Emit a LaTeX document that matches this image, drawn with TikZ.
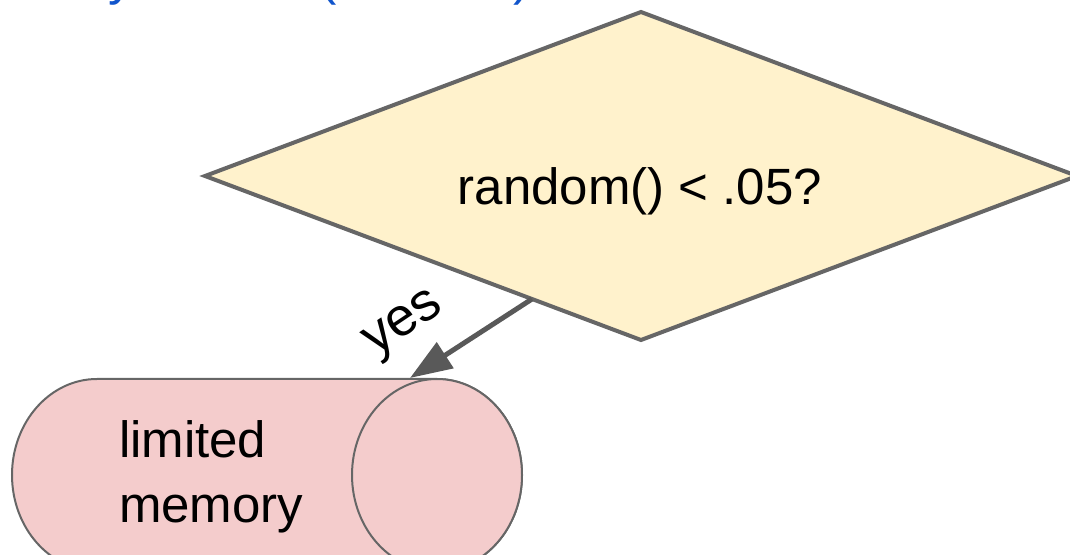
\documentclass[tikz,border=0pt]{standalone}
\usepackage{fontspec}
\setmainfont{Liberation Sans}
\usetikzlibrary{shapes.geometric,arrows.meta,calc}

\definecolor{decfill}{HTML}{FFF2CC}
\definecolor{memfill}{HTML}{F4CCCC}
\definecolor{edgegray}{HTML}{666666}
\definecolor{arrowgray}{HTML}{595959}
\definecolor{titleblue}{HTML}{1155CC}

\tikzset{
  decision/.style={diamond, draw=edgegray, fill=decfill, line width=4pt,
    minimum width=872pt, minimum height=328pt, inner sep=0pt, outer sep=0pt},
  memshape/.style={draw=edgegray, fill=memfill, line width=2pt},
  bigtext/.style={inner sep=0pt, outer sep=0pt, font=\fontsize{51}{61}\selectfont},
  titletext/.style={inner sep=0pt, outer sep=0pt, text=titleblue,
    font=\fontsize{52}{62}\selectfont},
  flow/.style={draw=arrowgray, line width=5pt,
    -{Triangle[length=42pt, width=30pt]}},
}

\begin{document}
\begin{tikzpicture}[x=1pt, y=1pt]
  \useasboundingbox (0,0) rectangle (1070,554);

  % heading line, running off the top edge
  \node[titletext, anchor=base west] (heading) at (-53,559) {Memory modes (random)};

  % decision
  \node[decision] (dec) at (641,378) {};
  \node[bigtext, anchor=base] (dectext) at (640,349) {random() < .05?};

  % memory store, drawn as a horizontal cylinder
  \path[memshape] (437,175) -- (97,175)
    arc[start angle=90, end angle=270, x radius=85, y radius=96]
    -- (437,-17)
    arc[start angle=-90, end angle=90, x radius=85, y radius=96] -- cycle;
  \draw[memshape] (437,79) ellipse[x radius=85, y radius=96];
  \coordinate (memtop) at (410,176);
  \node[bigtext, anchor=base west] (memtext1) at (119,96) {limited};
  \node[bigtext, anchor=base west] (memtext2) at (119,32) {memory};

  % yes branch
  \coordinate (decout) at ($(dec.west)!0.75!(dec.south)$);
  \draw[flow] (decout) -- (memtop);
  \node[bigtext, font=\fontsize{54}{64}\selectfont, rotate=34] (yeslabel) at (405,228) {yes};
\end{tikzpicture}
\end{document}
